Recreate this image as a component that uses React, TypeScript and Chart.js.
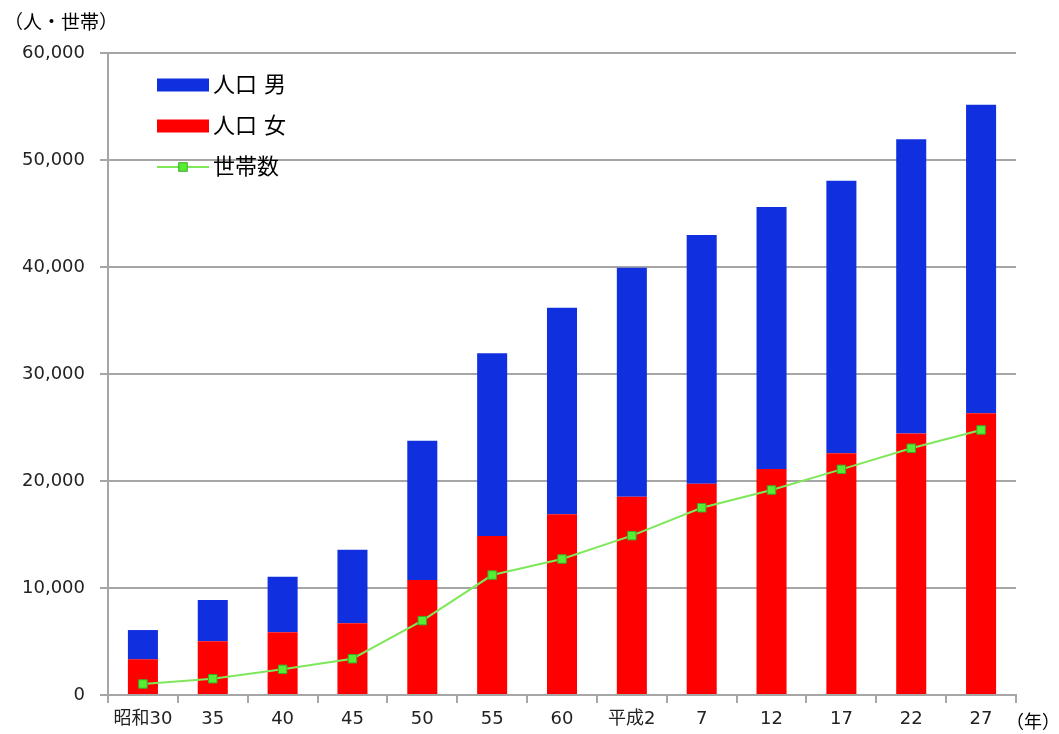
import React, { useEffect, useRef } from 'react';
import { Chart, registerables } from 'chart.js';

Chart.register(...registerables);

const categories = ['昭和30', '35', '40', '45', '50', '55', '60', '平成2', '7', '12', '17', '22', '27'];
const female = [3330, 5020, 5860, 6700, 10750, 14860, 16890, 18530, 19750, 21120, 22590, 24450, 26330];
const male = [2740, 3860, 5200, 6880, 13020, 17070, 19310, 21400, 23250, 24480, 25480, 27480, 28840];
const households = [1030, 1520, 2400, 3390, 6950, 11210, 12710, 14890, 17500, 19160, 21090, 23060, 24770];
const seriesLabels = ['人口 男', '人口 女', '世帯数'];
const yTitle = '（人・世帯）';
const xTitle = '（年）';
const yMin = 0;
const yMax = 60000;
const yStep = 10000;

const BLUE = '#1030e0';
const RED = '#ff0000';
const LINE = '#7fe85a';
const MARK = '#55ee33';
const MARK_BORDER = '#3fa82a';
const GRID = '#a6a6a6';
const FONT = "'DejaVu Sans', 'Noto Sans CJK JP', sans-serif";

const overlay = {
  id: 'overlay',
  afterDraw(chart: any) {
    const { ctx, chartArea: a } = chart;
    ctx.save();
    ctx.fillStyle = '#000';
    ctx.textBaseline = 'middle';
    ctx.textAlign = 'left';
    ctx.font = `19px 'Noto Sans CJK JP', sans-serif`;
    ctx.fillText(yTitle, 4, 22);
    ctx.font = `18px 'Noto Sans CJK JP', sans-serif`;
    ctx.fillText(xTitle, a.right - 10, 721);

    // legend
    const lx = a.left + 49;
    const lw = 52;
    const tx = a.left + 105;
    const rows = [a.top + 32, a.top + 73, a.top + 114];
    ctx.font = `22px ${FONT}`;
    // male box
    ctx.fillStyle = BLUE;
    ctx.fillRect(lx, rows[0] - 6.5, lw, 13);
    ctx.fillStyle = RED;
    ctx.fillRect(lx, rows[1] - 6.5, lw, 13);
    ctx.strokeStyle = LINE;
    ctx.lineWidth = 2;
    ctx.beginPath();
    ctx.moveTo(lx, rows[2]);
    ctx.lineTo(lx + lw, rows[2]);
    ctx.stroke();
    ctx.fillStyle = MARK;
    ctx.strokeStyle = MARK_BORDER;
    ctx.lineWidth = 1;
    ctx.fillRect(lx + lw / 2 - 4.25, rows[2] - 4.25, 8.5, 8.5);
    ctx.strokeRect(lx + lw / 2 - 4.25, rows[2] - 4.25, 8.5, 8.5);
    ctx.fillStyle = '#000';
    seriesLabels.forEach((t, i) => ctx.fillText(t, tx, rows[i] + 1));
    ctx.restore();
  },
};

export default function App() {
  const ref = useRef<HTMLCanvasElement>(null);
  useEffect(() => {
    if (!ref.current) return;
    const chart = new Chart(ref.current, {
      type: 'bar',
      data: {
        labels: categories,
        datasets: [
          {
            type: 'line',
            label: seriesLabels[2],
            data: households,
            stack: 'hh',
            order: 0,
            borderColor: LINE,
            borderWidth: 2,
            backgroundColor: MARK,
            pointStyle: 'rect',
            pointRadius: 6,
            pointBackgroundColor: MARK,
            pointBorderColor: MARK_BORDER,
            pointBorderWidth: 1,
            tension: 0,
            fill: false,
          } as any,
          {
            type: 'bar',
            label: seriesLabels[1],
            data: female,
            stack: 'pop',
            order: 1,
            backgroundColor: RED,
            barPercentage: 0.86,
            categoryPercentage: 0.5,
          },
          {
            type: 'bar',
            label: seriesLabels[0],
            data: male,
            stack: 'pop',
            order: 1,
            backgroundColor: BLUE,
            barPercentage: 0.86,
            categoryPercentage: 0.5,
          },
        ],
      },
      options: {
        responsive: false,
        animation: false,
        events: [],
        layout: { padding: { left: 0, right: 43, top: 53, bottom: 0 } },
        plugins: { legend: { display: false }, tooltip: { enabled: false } },
        scales: {
          x: {
            stacked: true,
            offset: true,
            grid: {
              display: true,
              offset: true,
              drawOnChartArea: false,
              drawTicks: true,
              tickLength: 8,
              color: GRID,
              lineWidth: 2,
            },
            border: { display: true, color: GRID, width: 2 },
            ticks: {
              color: '#222',
              font: { family: FONT, size: 18 },
              padding: 6,
              maxRotation: 0,
              autoSkip: false,
            },
            afterFit: (s: any) => {
              s.height = 39;
            },
          },
          y: {
            stacked: true,
            min: yMin,
            max: yMax,
            grid: { color: GRID, lineWidth: 2, tickLength: 8 },
            border: { display: true, color: GRID, width: 2 },
            ticks: {
              stepSize: yStep,
              color: '#222',
              font: { family: FONT, size: 18 },
              padding: 15,
              callback: (v: any) => Number(v).toLocaleString('en-US'),
            },
            afterFit: (s: any) => {
              s.width = 108;
            },
          },
        },
      },
      plugins: [overlay],
    });
    return () => chart.destroy();
  }, []);
  return (
    <div style={{ position: 'fixed', left: 0, top: 0, width: 1059, height: 734, background: '#fff' }}>
      <canvas ref={ref} width={1059} height={734} style={{ display: 'block' }} />
    </div>
  );
}
